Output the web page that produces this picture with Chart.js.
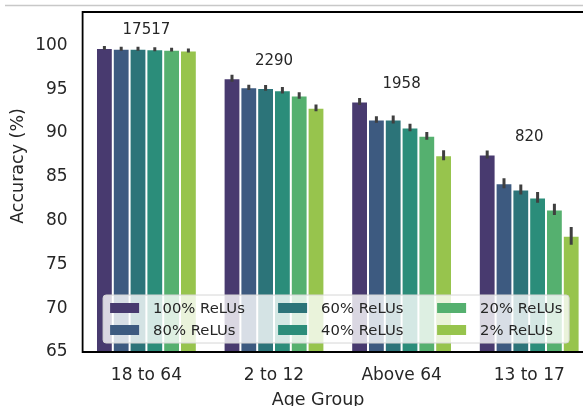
<!DOCTYPE html>
<html>
<head>
<meta charset="utf-8">
<script src="https://cdn.jsdelivr.net/npm/chart.js@4.4.0/dist/chart.umd.min.js"></script>
<style>
html, body { margin: 0; padding: 0; background: #fff; overflow: hidden; }
#wrap { width: 583px; height: 406px; position: relative; overflow: hidden; }
canvas { display: block; }
</style>
</head>
<body>
<div id="wrap"><canvas id="chart-accuracy" width="600" height="406"></canvas></div>
<script>
const ageGroups = ['18 to 64', '2 to 12', 'Above 64', '13 to 17']
const groupCounts = ['17517', '2290', '1958', '820']
const reluLabels = ['100% ReLUs', '80% ReLUs', '60% ReLUs', '40% ReLUs', '20% ReLUs', '2% ReLUs']

// mean accuracy per relu budget, one value per age group
const acc100 = [99.7, 96.24, 93.59, 87.54]
const acc80 = [99.6, 95.2, 91.53, 84.27]
const acc60 = [99.6, 95.14, 91.53, 83.55]
const acc40 = [99.55, 94.87, 90.62, 82.64]
const acc20 = [99.5, 94.27, 89.67, 81.27]
const acc2 = [99.4, 92.86, 87.46, 78.26]

// half length of the error bars
const err100 = [0.05, 0.23, 0.23, 0.28]
const err80 = [0.05, 0.13, 0.21, 0.4]
const err60 = [0.05, 0.15, 0.28, 0.4]
const err40 = [0.05, 0.21, 0.27, 0.44]
const err20 = [0.05, 0.21, 0.27, 0.47]
const err2 = [0.05, 0.21, 0.4, 0.84]

const yTicks = [65, 70, 75, 80, 85, 90, 95, 100]

const barColors = ['#483a6f', '#3d5a80', '#2c7479', '#2b8d7a', '#55b06f', '#97c44d']
const textColor = '#262626'
const fontName = "'DejaVu Sans', sans-serif"

const accData = [acc100, acc80, acc60, acc40, acc20, acc2]
const errData = [err100, err80, err60, err40, err20, err2]

var datasets = []
var i
for (i = 0; i < reluLabels.length; i++) {
    datasets.push({
        label: reluLabels[i],
        data: accData[i],
        errors: errData[i],
        backgroundColor: barColors[i],
        borderColor: '#ffffff',
        borderWidth: 1,
        borderSkipped: 'bottom',
        categoryPercentage: 0.79,
        barPercentage: 1.0,
    })
}

// page line at the top and the axes frame (right side falls outside the picture)
const framePlugin = {
    id: 'frame',
    beforeDraw(chart) {
        const c = chart.ctx
        c.save()
        c.strokeStyle = '#c8c8c8'
        c.lineWidth = 1.5
        c.beginPath()
        c.moveTo(5, 5.5)
        c.lineTo(chart.width, 5.5)
        c.stroke()
        c.restore()
    },
    afterDraw(chart) {
        const a = chart.chartArea
        const c = chart.ctx
        c.save()
        c.strokeStyle = '#000000'
        c.lineWidth = 1.8
        c.beginPath()
        c.moveTo(chart.width, a.top)
        c.lineTo(a.left, a.top)
        c.lineTo(a.left, a.bottom)
        c.lineTo(chart.width, a.bottom)
        c.stroke()

        // axis titles
        c.fillStyle = textColor
        c.font = '17.5px ' + fontName
        c.textAlign = 'center'
        c.textBaseline = 'middle'
        c.fillText('Age Group', 318, 400)
        c.translate(18, 166)
        c.rotate(-Math.PI / 2)
        c.fillText('Accuracy (%)', 0, 0)
        c.restore()
    }
}

const errorBarPlugin = {
    id: 'errorBars',
    afterDatasetsDraw(chart) {
        const c = chart.ctx
        const y = chart.scales.y
        const a = chart.chartArea
        c.save()
        c.beginPath()
        c.rect(a.left, a.top, a.right - a.left, a.bottom - a.top)
        c.clip()
        c.strokeStyle = '#3f3f3f'
        c.lineWidth = 3
        c.lineCap = 'square'
        chart.data.datasets.forEach(function (ds, d) {
            const meta = chart.getDatasetMeta(d)
            meta.data.forEach(function (bar, k) {
                const v = ds.data[k]
                const e = ds.errors[k]
                c.beginPath()
                c.moveTo(bar.x, y.getPixelForValue(v - e))
                c.lineTo(bar.x, y.getPixelForValue(v + e))
                c.stroke()
            })
        })
        c.restore()
    }
}

// sample counts written over each group
const countPlugin = {
    id: 'counts',
    afterDatasetsDraw(chart) {
        const c = chart.ctx
        const x = chart.scales.x
        const y = chart.scales.y
        c.save()
        c.fillStyle = textColor
        c.font = '15px ' + fontName
        c.textAlign = 'center'
        c.textBaseline = 'middle'
        ageGroups.forEach(function (g, k) {
            var top = Math.max.apply(null, accData.map(function (s) { return s[k] }))
            c.fillText(groupCounts[k], x.getPixelForValue(k), y.getPixelForValue(top + 2))
        })
        c.restore()
    }
}

// 3 column legend, filled column by column like matplotlib
const legendPlugin = {
    id: 'colLegend',
    afterDraw(chart) {
        const a = chart.chartArea
        const c = chart.ctx
        const left = a.left + 20.5
        const top = a.bottom - 57
        const w = 466
        const h = 48
        c.save()
        c.globalAlpha = 0.8
        c.fillStyle = '#ffffff'
        c.beginPath()
        c.roundRect(left, top, w, h, 3)
        c.fill()
        c.globalAlpha = 1
        c.strokeStyle = '#d6d6d6'
        c.lineWidth = 1
        c.stroke()
        const colX = [7, 175, 334]
        const rowY = [13, 35]
        c.font = '14.8px ' + fontName
        c.textBaseline = 'middle'
        c.textAlign = 'left'
        reluLabels.forEach(function (lab, k) {
            const col = Math.floor(k / 2)
            const row = k % 2
            const sx = left + colX[col]
            const sy = top + rowY[row]
            c.fillStyle = barColors[k]
            c.fillRect(sx, sy - 5, 29, 10)
            c.fillStyle = textColor
            c.fillText(lab, sx + 43, sy + 1)
        })
        c.restore()
    }
}

function noPadding(scale) {
    scale.paddingTop = 0
    scale.paddingBottom = 0
    scale.paddingLeft = 0
    scale.paddingRight = 0
}

var ctx = document.getElementById('chart-accuracy')
var accChart = new Chart(ctx, {
    type: 'bar',
    data: {
        labels: ageGroups,
        datasets: datasets,
    },
    options: {
        responsive: false,
        animation: false,
        layout: { padding: { top: 12, right: 7, left: 0, bottom: 0 } },
        plugins: {
            legend: { display: false },
            tooltip: { enabled: false },
        },
        scales: {
            x: {
                grid: { display: false, drawTicks: false },
                border: { display: false },
                ticks: {
                    color: textColor,
                    font: { family: fontName, size: 17 },
                    padding: 13,
                },
                afterFit: function (scale) {
                    scale.height = 54
                    noPadding(scale)
                },
            },
            y: {
                min: 65,
                max: 103.8,
                grid: { display: false, drawTicks: false },
                border: { display: false },
                ticks: {
                    color: textColor,
                    font: { family: fontName, size: 17 },
                    padding: 15,
                },
                afterBuildTicks: function (scale) {
                    scale.ticks = yTicks.map(function (v) { return { value: v } })
                },
                afterFit: function (scale) {
                    scale.width = 82.6
                    noPadding(scale)
                },
            },
        },
    },
    plugins: [framePlugin, errorBarPlugin, countPlugin, legendPlugin],
})
</script>
</body>
</html>
